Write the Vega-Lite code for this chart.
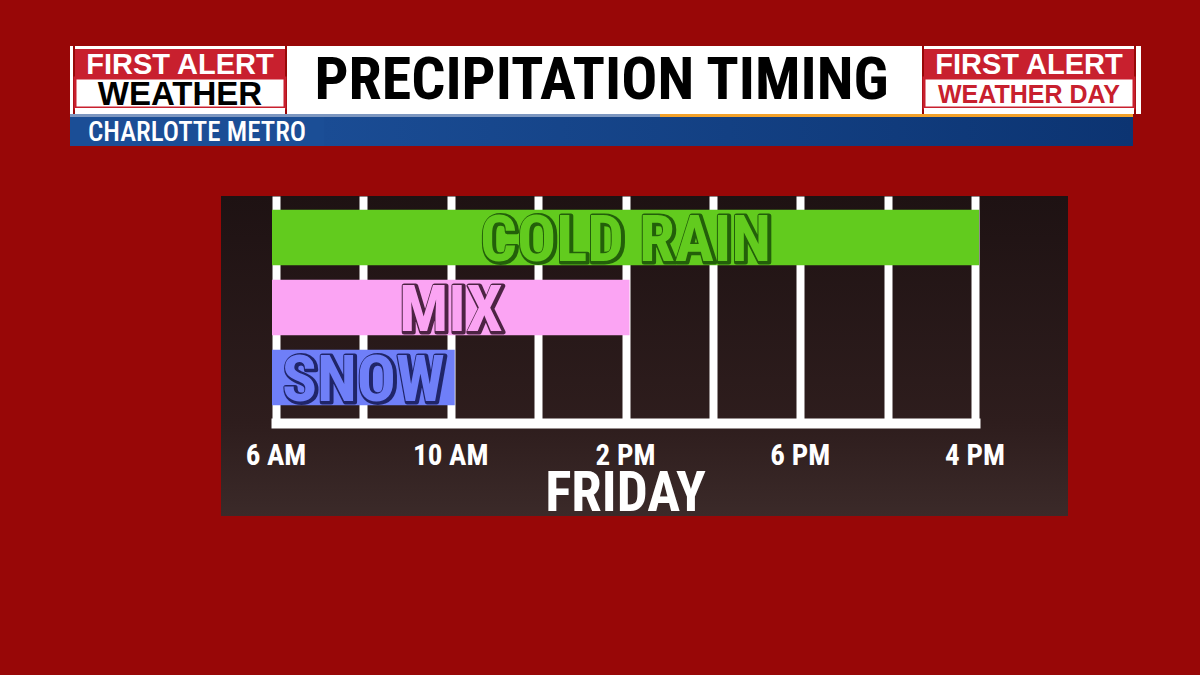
{
  "$schema": "https://vega.github.io/schema/vega-lite/v6.json",
  "background": "#980707",
  "padding": {"left": 70, "top": 46, "right": 67, "bottom": 159},
  "autosize": {"type": "pad"},
  "config": {
    "view": {"stroke": null},
    "concat": {"spacing": 0},
    "text": {"font": "Roboto Condensed, DejaVu Sans Condensed, sans-serif"}
  },
  "spacing": 50,
  "vconcat": [
    {
      "spacing": 0,
      "vconcat": [
        {
          "spacing": 0,
          "hconcat": [
            {"width": 3, "height": 68, "view": {"fill": "white"}, "data": {"values": []}, "mark": "rect"},
            {
              "spacing": 0,
              "bounds": "flush",
              "vconcat": [
                {"width": 210, "height": 3, "view": {"fill": "white"}, "data": {"values": []}, "mark": "rect"},
                {
                  "width": 210, "height": 29, "view": {"fill": "#c8202e"},
                  "data": {"values": [{"brand": "FIRST ALERT"}]},
                  "mark": {"type": "text", "font": "Liberation Sans, Arial, sans-serif", "fontWeight": "bold", "fontSize": 29, "color": "white", "baseline": "middle", "dy": 1},
                  "encoding": {"text": {"field": "brand"}}
                },
                {
                  "width": 210, "height": 30, "view": {"fill": "white", "stroke": "#c8202e", "strokeWidth": 3},
                  "data": {"values": [{"brand": "WEATHER"}]},
                  "mark": {"type": "text", "font": "Liberation Sans, Arial, sans-serif", "fontWeight": "bold", "fontSize": 33, "color": "black", "baseline": "middle", "dy": 2},
                  "encoding": {"text": {"field": "brand"}}
                },
                {"width": 210, "height": 6, "view": {"fill": "white"}, "data": {"values": []}, "mark": "rect"}
              ]
            },
            {
              "width": 635, "height": 68, "view": {"fill": "white"},
              "data": {"values": [{"title": "PRECIPITATION TIMING"}]},
              "mark": {"type": "text", "fontWeight": "bold", "fontSize": 60, "color": "black", "baseline": "middle", "dx": -3, "dy": 1},
              "encoding": {"text": {"field": "title"}}
            },
            {
              "spacing": 0,
              "bounds": "flush",
              "vconcat": [
                {"width": 210, "height": 3, "view": {"fill": "white"}, "data": {"values": []}, "mark": "rect"},
                {
                  "width": 210, "height": 29, "view": {"fill": "#c8202e"},
                  "data": {"values": [{"brand": "FIRST ALERT"}]},
                  "mark": {"type": "text", "font": "Liberation Sans, Arial, sans-serif", "fontWeight": "bold", "fontSize": 29, "color": "white", "baseline": "middle", "dy": 1},
                  "encoding": {"text": {"field": "brand"}}
                },
                {
                  "width": 210, "height": 30, "view": {"fill": "white", "stroke": "#c8202e", "strokeWidth": 3},
                  "data": {"values": [{"brand": "WEATHER DAY"}]},
                  "mark": {"type": "text", "font": "Liberation Sans, Arial, sans-serif", "fontWeight": "bold", "fontSize": 25, "color": "#c8202e", "baseline": "middle", "dy": 2},
                  "encoding": {"text": {"field": "brand"}}
                },
                {"width": 210, "height": 6, "view": {"fill": "white"}, "data": {"values": []}, "mark": "rect"}
              ]
            },
            {"width": 5, "height": 68, "view": {"fill": "white"}, "data": {"values": []}, "mark": "rect"}
          ]
        },
        {
          "spacing": 0,
          "bounds": "flush",
          "hconcat": [
            {"width": 590, "height": 3, "view": {"fill": "#7d97c0"}, "data": {"values": []}, "mark": "rect"},
            {"width": 473, "height": 3, "view": {"fill": "#f2a12a"}, "data": {"values": []}, "mark": "rect"}
          ]
        },
        {
          "spacing": 0,
          "bounds": "flush",
          "hconcat": [
            {
              "width": 254, "height": 29, "view": {"fill": "#1b4e96"},
              "data": {"values": [{"market": "CHARLOTTE METRO"}]},
              "mark": {"type": "text", "fontSize": 27, "fontWeight": 500, "color": "white", "baseline": "middle", "dy": 1},
              "encoding": {"text": {"field": "market"}}
            },
            {
              "width": 809, "height": 29,
              "view": {"fill": {"gradient": "linear", "x1": 0, "y1": 0, "x2": 1, "y2": 0, "stops": [{"offset": 0, "color": "#1a4c94"}, {"offset": 1, "color": "#0c3472"}]}},
              "data": {"values": []}, "mark": "rect"
            }
          ]
        }
      ]
    },
    {
      "spacing": 0,
      "hconcat": [
        {"width": 151, "height": 320, "data": {"values": []}, "mark": "rect"},
        {
          "spacing": 0,
          "bounds": "flush",
          "vconcat": [
            {
              "width": 847, "height": 227,
              "view": {"fill": {"gradient": "linear", "x1": 0, "y1": 0, "x2": 0, "y2": 1, "stops": [{"offset": 0, "color": "#1e1213"}, {"offset": 1, "color": "#2e1d1d"}]}},
              "data": {"values": [
                {"type": "COLD RAIN", "start": 6, "end": 22},
                {"type": "MIX", "start": 6, "end": 14},
                {"type": "SNOW", "start": 6, "end": 10}
              ]},
              "layer": [
                {
                  "mark": {"type": "bar", "xOffset": -4, "x2Offset": 4, "cornerRadius": 0},
                  "encoding": {
                    "x": {
                      "field": "start", "type": "quantitative",
                      "scale": {"domain": [6, 22], "range": [55, 754], "nice": false, "zero": false},
                      "axis": {"grid": true, "gridColor": "white", "gridWidth": 8, "gridOpacity": 1, "values": [6, 8, 10, 12, 14, 16, 18, 20, 22], "labels": false, "ticks": false, "domain": false, "title": null}
                    },
                    "x2": {"field": "end"},
                    "y": {
                      "field": "type", "type": "nominal",
                      "scale": {"domain": ["COLD RAIN", "MIX", "SNOW"], "paddingInner": 0.207, "paddingOuter": 0.225, "align": 0.44},
                      "axis": null
                    },
                    "color": {
                      "field": "type", "type": "nominal",
                      "scale": {"domain": ["COLD RAIN", "MIX", "SNOW"], "range": ["#62cb1e", "#fba4f3", "#6f7ff8"]},
                      "legend": null
                    }
                  }
                },
                {
                  "transform": [
                    {"fold": ["start", "end"], "as": ["edge", "hour"]},
                    {"aggregate": [{"op": "mean", "field": "hour", "as": "mid"}], "groupby": ["type"]}
                  ],
                  "mark": {"type": "text", "fontWeight": "bold", "fontSize": 65, "baseline": "middle", "strokeWidth": 5, "strokeJoin": "round", "dx": 1.5, "dy": 4.5, "opacity": 0.9},
                  "encoding": {
                    "x": {"field": "mid", "type": "quantitative"},
                    "y": {"field": "type", "type": "nominal"},
                    "text": {"field": "type"},
                    "fill": {
                      "field": "type", "type": "nominal",
                      "scale": {"domain": ["COLD RAIN", "MIX", "SNOW"], "range": ["#1d5408", "#3a1630", "#181c5a"]},
                      "legend": null
                    },
                    "stroke": {
                      "field": "type", "type": "nominal",
                      "scale": {"domain": ["COLD RAIN", "MIX", "SNOW"], "range": ["#1d5408", "#3a1630", "#181c5a"]},
                      "legend": null
                    }
                  }
                },
                {
                  "transform": [
                    {"fold": ["start", "end"], "as": ["edge", "hour"]},
                    {"aggregate": [{"op": "mean", "field": "hour", "as": "mid"}], "groupby": ["type"]}
                  ],
                  "mark": {"type": "text", "fontWeight": "bold", "fontSize": 65, "baseline": "middle", "dy": 3},
                  "encoding": {
                    "x": {"field": "mid", "type": "quantitative"},
                    "y": {"field": "type", "type": "nominal"},
                    "text": {"field": "type"},
                    "color": {"field": "type", "type": "nominal", "legend": null}
                  }
                }
              ]
            },
            {
              "width": 847, "height": 93,
              "view": {"fill": {"gradient": "linear", "x1": 0, "y1": 0, "x2": 0, "y2": 1, "stops": [{"offset": 0, "color": "#2e1d1d"}, {"offset": 1, "color": "#3b2a29"}]}},
              "data": {"values": [
                {"hour": 6, "label": "6 AM", "day": "FRIDAY"},
                {"hour": 10, "label": "10 AM", "day": "FRIDAY"},
                {"hour": 14, "label": "2 PM", "day": "FRIDAY"},
                {"hour": 18, "label": "6 PM", "day": "FRIDAY"},
                {"hour": 22, "label": "4 PM", "day": "FRIDAY"}
              ]},
              "layer": [
                {
                  "mark": {"type": "text", "fontWeight": "bold", "fontSize": 29, "color": "white", "baseline": "middle", "dy": -14},
                  "encoding": {
                    "x": {
                      "field": "hour", "type": "quantitative",
                      "scale": {"domain": [6, 22], "range": [55, 754], "nice": false, "zero": false},
                      "axis": {"orient": "top", "domain": true, "domainColor": "white", "domainWidth": 10, "domainCap": "square", "labels": false, "ticks": false, "grid": false, "title": null}
                    },
                    "text": {"field": "label"}
                  }
                },
                {
                  "transform": [
                    {"aggregate": [{"op": "mean", "field": "hour", "as": "mid"}], "groupby": ["day"]}
                  ],
                  "mark": {"type": "text", "fontWeight": "bold", "fontSize": 55, "color": "white", "baseline": "middle", "dy": 24},
                  "encoding": {
                    "x": {"field": "mid", "type": "quantitative"},
                    "text": {"field": "day"}
                  }
                }
              ]
            }
          ]
        }
      ]
    }
  ]
}
